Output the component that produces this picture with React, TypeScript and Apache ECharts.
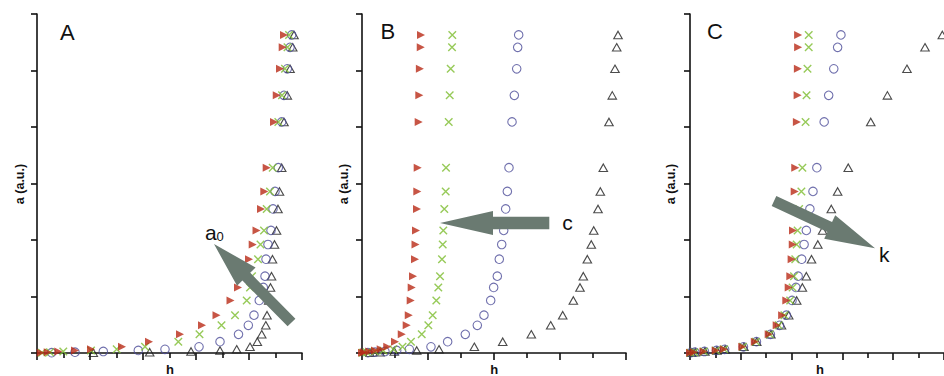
import React, { useEffect, useRef } from "react";
import * as echarts from "echarts";

// Shared amplitude rows (a, a.u.) used by every series
const Y_ROWS = [5.63, 5.41, 5.03, 4.56, 4.09, 3.28, 2.86, 2.55, 2.17, 1.92, 1.66, 1.36, 1.16, 0.93, 0.67, 0.49, 0.33, 0.2, 0.11, 0.065, 0.045, 0.027, 0.014, 0.005];

// Panel A (h values)
const A_RED = [4.66, 4.636, 4.585, 4.523, 4.472, 4.334, 4.289, 4.226, 4.142, 4.07, 4.0, 3.877, 3.792, 3.651, 3.387, 3.113, 2.698, 2.113, 1.604, 1.019, 0.717, 0.402, 0.202, 0.07];
const A_GREEN = [4.755, 4.726, 4.679, 4.623, 4.553, 4.447, 4.396, 4.334, 4.283, 4.217, 4.17, 4.057, 4.019, 3.957, 3.736, 3.481, 3.066, 2.666, 2.038, 1.504, 1.019, 0.496, 0.245, 0.094];
const A_CIRCLE = [4.806, 4.774, 4.723, 4.66, 4.617, 4.553, 4.491, 4.453, 4.415, 4.358, 4.321, 4.302, 4.27, 4.194, 4.094, 3.987, 3.802, 3.453, 3.057, 2.415, 1.911, 1.251, 0.717, 0.277];
const A_TRI = [4.849, 4.825, 4.774, 4.723, 4.66, 4.617, 4.575, 4.547, 4.519, 4.481, 4.443, 4.425, 4.406, 4.372, 4.34, 4.317, 4.24, 4.157, 4.019, 3.768, 3.453, 2.906, 2.126, 1.062];

// Panel B
const B_RED = [0.894, 0.89, 0.877, 0.868, 0.859, 0.844, 0.838, 0.833, 0.818, 0.811, 0.803, 0.773, 0.753, 0.738, 0.708, 0.677, 0.602, 0.5, 0.383, 0.283, 0.197, 0.111, 0.03, 0.0];
const B_GREEN = [1.368, 1.364, 1.344, 1.329, 1.314, 1.273, 1.268, 1.247, 1.232, 1.223, 1.212, 1.182, 1.156, 1.126, 1.071, 1.005, 0.905, 0.742, 0.614, 0.474, 0.323, 0.197, 0.071, 0.01];
const B_CIRCLE = [2.374, 2.359, 2.344, 2.308, 2.273, 2.227, 2.202, 2.177, 2.147, 2.117, 2.08, 2.05, 1.995, 1.95, 1.848, 1.747, 1.565, 1.298, 1.045, 0.717, 0.526, 0.348, 0.197, 0.09];
const B_TRI = [3.879, 3.859, 3.833, 3.792, 3.742, 3.656, 3.611, 3.576, 3.511, 3.474, 3.414, 3.353, 3.303, 3.202, 3.041, 2.859, 2.565, 2.132, 1.702, 1.167, 0.829, 0.489, 0.273, 0.121];

// Panel C
const C_RED = [2.129, 2.129, 2.123, 2.118, 2.104, 2.072, 2.061, 2.053, 2.028, 2.023, 2.0, 1.975, 1.943, 1.896, 1.814, 1.706, 1.549, 1.276, 1.029, 0.664, 0.506, 0.265, 0.076, 0.0];
const C_GREEN = [2.337, 2.337, 2.313, 2.294, 2.275, 2.212, 2.193, 2.148, 2.118, 2.099, 2.072, 2.047, 2.019, 1.972, 1.858, 1.744, 1.573, 1.299, 1.043, 0.673, 0.512, 0.275, 0.085, 0.009];
const C_CIRCLE = [2.971, 2.906, 2.83, 2.73, 2.641, 2.497, 2.421, 2.36, 2.29, 2.246, 2.199, 2.129, 2.085, 2.009, 1.896, 1.763, 1.583, 1.308, 1.052, 0.682, 0.521, 0.284, 0.095, 0.019];
const C_TRI = [4.967, 4.626, 4.271, 3.886, 3.558, 3.115, 2.906, 2.781, 2.61, 2.516, 2.392, 2.29, 2.212, 2.1, 1.943, 1.801, 1.592, 1.314, 1.062, 0.692, 0.531, 0.294, 0.104, 0.028];

const PANEL_LETTERS = ["A", "B", "C"];
const X_MAX = [5, 4, 5];
const Y_MAX = 6;
const Y_LABEL = "a (a.u.)";
const X_LABEL = "h";

const RED = "#b92a16";
const GREEN = "#7dbd30";
const NAVY = "#4c4c98";
const DARK = "#1e1e1e";
const ARROW = "#6a7a71";
const FONT = "'Liberation Sans', Arial, Helvetica, sans-serif";

const GRIDS = [
  { left: 37, top: 14, width: 265, height: 339 },
  { left: 362, top: 14, width: 264, height: 339 },
  { left: 690, top: 14, width: 264, height: 339 },
];

function zip(xs: number[]) {
  return xs.map((x, i) => [x, Y_ROWS[i]]);
}

function arrowPoints(tx: number, ty: number, hx: number, hy: number, sh: number, hh: number, hl: number) {
  const dx = hx - tx, dy = hy - ty;
  const L = Math.hypot(dx, dy);
  const ux = dx / L, uy = dy / L;
  const px = -uy, py = ux;
  const bx = hx - ux * hl, by = hy - uy * hl;
  return [
    [tx + px * sh, ty + py * sh],
    [bx + px * sh, by + py * sh],
    [bx + px * hh, by + py * hh],
    [hx, hy],
    [bx - px * hh, by - py * hh],
    [bx - px * sh, by - py * sh],
    [tx - px * sh, ty - py * sh],
  ];
}

export default function App() {
  const ref = useRef<HTMLDivElement>(null);
  useEffect(() => {
    if (!ref.current) return;
    const chart = echarts.init(ref.current, null, { renderer: "svg" });
    const panels = [
      [A_TRI, A_CIRCLE, A_GREEN, A_RED],
      [B_TRI, B_CIRCLE, B_GREEN, B_RED],
      [C_TRI, C_CIRCLE, C_GREEN, C_RED],
    ];
    const lineStyle = { color: "#111", width: 1.6 };
    const xAxis = X_MAX.map((mx, i) => ({
      type: "value",
      gridIndex: i,
      min: 0,
      max: mx,
      interval: 1,
      axisLine: { show: true, onZero: false, lineStyle },
      axisTick: { show: true, length: 7, lineStyle },
      minorTick: { show: true, splitNumber: 2, length: 5, lineStyle },
      axisLabel: { show: false },
      splitLine: { show: false },
    }));
    const yAxis = X_MAX.map((_, i) => ({
      type: "value",
      gridIndex: i,
      min: 0,
      max: Y_MAX,
      interval: 1,
      axisLine: { show: true, onZero: false, lineStyle },
      axisTick: { show: true, length: 6, lineStyle },
      axisLabel: { show: false },
      splitLine: { show: false },
    }));
    const styles = [
      { symbol: "triangle", symbolSize: [8.5, 7.5], itemStyle: { color: "rgba(0,0,0,0)", borderColor: DARK, borderWidth: 1.1 } },
      { symbol: "circle", symbolSize: 8.5, itemStyle: { color: "rgba(0,0,0,0)", borderColor: NAVY, borderWidth: 1.1 } },
      { symbol: "path://M0,0L10,10M10,0L0,10", symbolSize: 7.5, itemStyle: { color: "rgba(0,0,0,0)", borderColor: GREEN, borderWidth: 1.4 } },
      { symbol: "path://M0,0L10,5L0,10Z", symbolSize: [8, 8], itemStyle: { color: RED } },
    ];
    const series: any[] = [];
    panels.forEach((p, pi) => {
      p.forEach((xs, si) => {
        series.push({
          type: "scatter",
          xAxisIndex: pi,
          yAxisIndex: pi,
          data: zip(xs),
          z: 2 + si,
          ...styles[si],
        });
      });
    });

    const graphic: any[] = [];
    // arrows
    graphic.push({ type: "polygon", shape: { points: arrowPoints(291.5, 322.5, 214, 244, 5.5, 13, 46) }, style: { fill: ARROW }, z: 100 });
    graphic.push({ type: "polygon", shape: { points: arrowPoints(549.3, 223, 440, 223, 6.2, 12, 53) }, style: { fill: ARROW }, z: 100 });
    graphic.push({ type: "polygon", shape: { points: arrowPoints(774, 201, 875, 248.3, 5.5, 13, 50) }, style: { fill: ARROW }, z: 100 });
    // arrow labels
    graphic.push({ type: "text", x: 205, y: 232, z: 101, style: { text: "a", fontSize: 21, fontFamily: FONT, fill: "#111", align: "left", verticalAlign: "middle" } });
    graphic.push({ type: "text", x: 216.5, y: 236.3, z: 101, style: { text: "0", fontSize: 13, fontFamily: FONT, fill: "#111", align: "left", verticalAlign: "middle" } });
    graphic.push({ type: "text", x: 567.5, y: 222.4, z: 101, style: { text: "c", fontSize: 21, fontFamily: FONT, fill: "#111", align: "center", verticalAlign: "middle" } });
    graphic.push({ type: "text", x: 884.3, y: 254.2, z: 101, style: { text: "k", fontSize: 21, fontFamily: FONT, fill: "#111", align: "center", verticalAlign: "middle" } });
    // panel letters
    const letterPos = [[60, 32.7], [380.5, 31.5], [707, 31]];
    PANEL_LETTERS.forEach((t, i) => {
      graphic.push({ type: "text", x: letterPos[i][0], y: letterPos[i][1], z: 101, style: { text: t, fontSize: 22, fontFamily: FONT, fill: "#111", align: "left", verticalAlign: "middle" } });
    });
    // axis titles
    const yLabX = [19.5, 344, 671];
    const xLabX = [170, 494.3, 820];
    yLabX.forEach((x) => {
      graphic.push({ type: "text", x, y: 184, rotation: Math.PI / 2, z: 101, style: { text: Y_LABEL, fontSize: 12.5, fontWeight: "bold", fontFamily: FONT, fill: "#111", align: "center", verticalAlign: "middle" } });
    });
    xLabX.forEach((x) => {
      graphic.push({ type: "text", x, y: 369, z: 101, style: { text: X_LABEL, fontSize: 13, fontWeight: "bold", fontFamily: FONT, fill: "#111", align: "center", verticalAlign: "middle" } });
    });

    chart.setOption({
      animation: false,
      backgroundColor: "#ffffff",
      grid: GRIDS,
      xAxis,
      yAxis,
      series,
      graphic,
    });
    return () => chart.dispose();
  }, []);
  return <div ref={ref} style={{ position: "fixed", left: 0, top: 0, width: 944, height: 376 }} />;
}
